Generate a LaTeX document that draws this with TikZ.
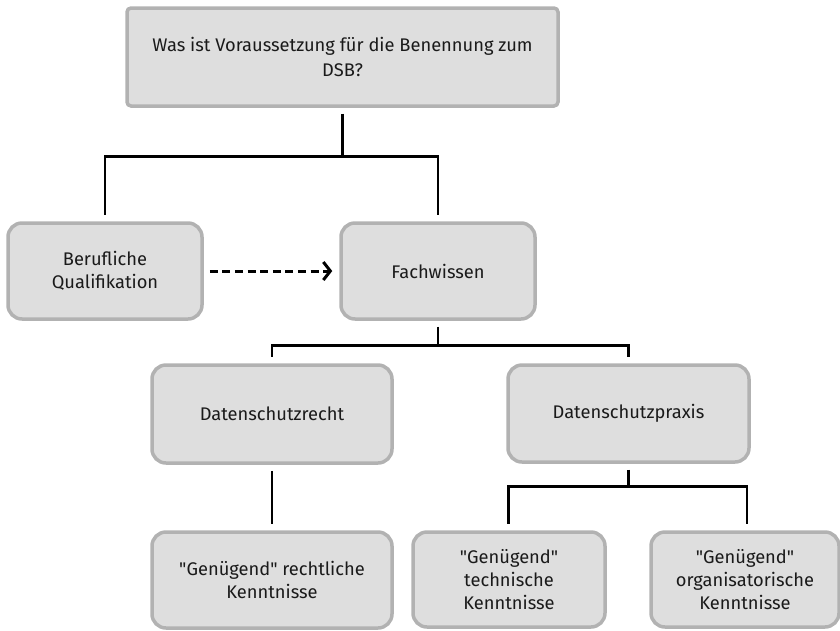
\documentclass[tikz,border=0pt]{standalone}
\usepackage{fontspec}
\setmainfont{Fira Sans}[Ligatures=TeXOff]
\usetikzlibrary{arrows.meta}
\definecolor{boxfill}{HTML}{DEDEDE}
\definecolor{boxline}{HTML}{B2B2B2}
\definecolor{txt}{HTML}{1A1A1A}
\tikzset{
  box/.style={draw=boxline, fill=boxfill, line width=3.5pt, rounded corners=14pt,
    align=center, text=txt, font=\fontsize{18.3}{23}\selectfont, inner sep=0pt},
  topbox/.style={box, rounded corners=4pt, font=\fontsize{18.3}{24.5}\selectfont},
  conn/.style={line width=2.8pt, black, shorten <=6pt, shorten >=6pt},
  dasharrow/.style={line width=3pt, black, dash pattern=on 8pt off 4.6pt,
    shorten <=6pt, shorten >=7pt, -{Straight Barb[length=7pt,width=18pt,line width=3pt]}}
}
\begin{document}
\begin{tikzpicture}[x=1pt, y=-1pt]
\useasboundingbox (0,0) rectangle (840,630);
\node[topbox, minimum width=431pt, minimum height=98pt] (top) at (342.5,57)
  {Was ist Voraussetzung für die Benennung zum\\DSB?};
\node[box, minimum width=194pt, minimum height=96pt] (beruf) at (105,271)
  {Berufliche\\Qualifikation};
\node[box, minimum width=194pt, minimum height=96pt] (fach) at (438,271)
  {Fachwissen};
\node[box, minimum width=240pt, minimum height=98pt] (recht) at (272,414)
  {Datenschutzrecht};
\node[box, minimum width=241pt, minimum height=97pt] (praxis) at (628.5,413.5)
  {Datenschutzpraxis};
\node[box, minimum width=240pt, minimum height=96pt] (rk) at (272,580)
  {"Genügend" rechtliche\\Kenntnisse};
\node[box, minimum width=192pt, minimum height=95pt] (tk) at (509,579.5)
  {"Genügend"\\technische\\Kenntnisse};
\node[box, minimum width=188pt, minimum height=95pt] (ok) at (745,579.5)
  {"Genügend"\\organisatorische\\Kenntnisse};

\draw[conn] (top.south) -- ++(0,49) -| (beruf.north);
\draw[conn] (top.south) -- ++(0,49) -| (fach.north);
\draw[dasharrow] (beruf.east) -- (fach.west);
\draw[conn] (fach.south) -- ++(0,25) -| (recht.north);
\draw[conn] (fach.south) -- ++(0,25) -| (praxis.north);
\draw[conn] (recht.south) -- (rk.north);
\draw[conn] (praxis.south) -- ++(0,23) -| ([xshift=-0.5pt]tk.north);
\draw[conn] (praxis.south) -- ++(0,23) -| ([xshift=2pt]ok.north);
\end{tikzpicture}
\end{document}
